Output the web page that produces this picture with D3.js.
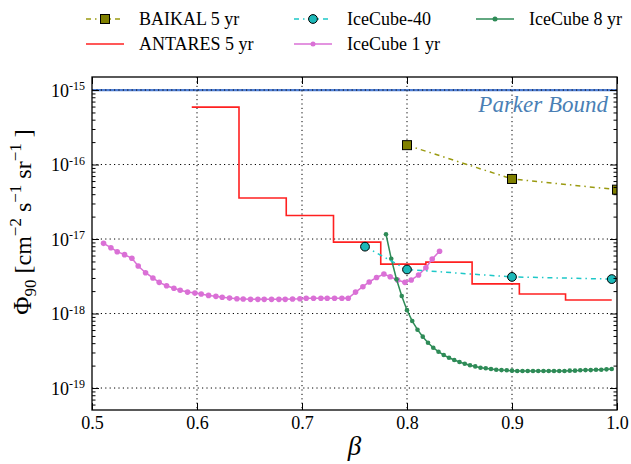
<!DOCTYPE html>
<html>
<head>
<meta charset="utf-8">
<script src="https://cdn.jsdelivr.net/npm/d3@7"></script>
</head>
<body style="margin:0; background:#fff">
<svg width="631" height="464"></svg>
<script>
// values
var baikalBeta = [0.8, 0.9, 1.0];
var baikalFlux = [1.82e-16, 6.4e-17, 4.6e-17];

var ic40Beta = [0.76, 0.8, 0.9, 0.995];
var ic40Flux = [7.9e-18, 3.9e-18, 3.1e-18, 2.9e-18];

var antaresEdges = [0.595, 0.64, 0.685, 0.73, 0.775, 0.818, 0.862, 0.907, 0.951, 0.995];
var antaresFlux = [5.9e-16, 3.55e-17, 2.07e-17, 9.1e-18, 4.6e-18, 4.9e-18, 2.5e-18, 1.83e-18, 1.52e-18];

var ic1Beta = [0.511, 0.518, 0.524, 0.531, 0.538, 0.544, 0.551, 0.558, 0.564, 0.571,
    0.578, 0.584, 0.591, 0.598, 0.604, 0.611, 0.618, 0.624, 0.631, 0.638,
    0.644, 0.651, 0.658, 0.664, 0.671, 0.678, 0.684, 0.691, 0.698, 0.704,
    0.711, 0.718, 0.724, 0.731, 0.738, 0.744, 0.751, 0.758, 0.764, 0.771,
    0.778, 0.784, 0.791, 0.798, 0.804, 0.811, 0.818, 0.824, 0.831];
var ic1Flux = [8.75e-18, 7.65e-18, 6.76e-18, 6.17e-18, 5.51e-18, 4.35e-18, 3.53e-18, 3.0e-18, 2.62e-18, 2.36e-18,
    2.18e-18, 2.05e-18, 1.94e-18, 1.88e-18, 1.83e-18, 1.75e-18, 1.70e-18, 1.65e-18, 1.61e-18, 1.58e-18,
    1.57e-18, 1.55e-18, 1.55e-18, 1.55e-18, 1.55e-18, 1.55e-18, 1.55e-18, 1.57e-18, 1.58e-18, 1.60e-18,
    1.60e-18, 1.60e-18, 1.60e-18, 1.60e-18, 1.60e-18, 1.60e-18, 1.94e-18, 2.29e-18, 2.65e-18, 3.05e-18,
    3.39e-18, 3.12e-18, 2.82e-18, 2.62e-18, 2.82e-18, 3.29e-18, 4.12e-18, 5.4e-18, 6.84e-18];

var ic8Beta = [0.780, 0.785, 0.790, 0.795, 0.800, 0.805, 0.810, 0.815, 0.820, 0.825,
    0.830, 0.835, 0.840, 0.845, 0.850, 0.855, 0.860, 0.865, 0.870, 0.875,
    0.880, 0.885, 0.890, 0.895, 0.900, 0.905, 0.910, 0.915, 0.920, 0.925,
    0.930, 0.935, 0.940, 0.945, 0.950, 0.955, 0.960, 0.965, 0.970, 0.975,
    0.980, 0.985, 0.990, 0.995];
var ic8Flux = [1.16e-17, 5.44e-18, 2.88e-18, 1.72e-18, 1.11e-18, 7.93e-19, 6.07e-19, 4.89e-19, 4.06e-19, 3.48e-19,
    3.07e-19, 2.77e-19, 2.55e-19, 2.38e-19, 2.24e-19, 2.12e-19, 2.02e-19, 1.95e-19, 1.87e-19, 1.84e-19,
    1.80e-19, 1.76e-19, 1.74e-19, 1.73e-19, 1.71e-19, 1.69e-19, 1.69e-19, 1.69e-19, 1.69e-19, 1.69e-19,
    1.69e-19, 1.69e-19, 1.69e-19, 1.69e-19, 1.69e-19, 1.71e-19, 1.71e-19, 1.73e-19, 1.74e-19, 1.74e-19,
    1.76e-19, 1.76e-19, 1.78e-19, 1.80e-19];

var parkerFlux = 1e-15;
var xTicks = [0.5, 0.6, 0.7, 0.8, 0.9, 1.0];
var xTickLabels = ["0.5", "0.6", "0.7", "0.8", "0.9", "1.0"];
var yTicks = [1e-19, 1e-18, 1e-17, 1e-16, 1e-15];
var yTickExps = ["-19", "-18", "-17", "-16", "-15"];

(function() {

    "use strict";

    var svg = d3.select("svg");
    var width = +svg.attr("width");
    var height = +svg.attr("height");
    var margin = {top: 77, right: 14, bottom: 54, left: 92};

    var x = d3.scaleLinear()
        .domain([0.5, 1.0])
        .range([margin.left, width - margin.right]);

    var y = d3.scaleLog()
        .domain([5.07e-20, 1.496e-15])
        .range([height - margin.bottom, margin.top]);

    var zip = function(xs, ys) {
        return xs.map(function(b, i) { return {b: b, f: ys[i]}; });
    };

    svg.append("clipPath").attr("id", "plot")
        .append("rect")
        .attr("x", margin.left).attr("y", margin.top)
        .attr("width", width - margin.left - margin.right)
        .attr("height", height - margin.top - margin.bottom);

    // parker bound
    svg.append("line")
        .attr("x1", x(0.5)).attr("x2", x(1.0))
        .attr("y1", y(parkerFlux)).attr("y2", y(parkerFlux))
        .attr("stroke", "#4f7fd6").attr("stroke-width", 2.2);

    // grid
    var grid = svg.append("g").attr("stroke", "#000").attr("stroke-width", 1)
        .attr("stroke-dasharray", "1.2,3.2");
    grid.selectAll(".gx").data(xTicks.slice(1, -1)).enter().append("line")
        .attr("x1", function(d) { return x(d); }).attr("x2", function(d) { return x(d); })
        .attr("y1", margin.top).attr("y2", height - margin.bottom);
    grid.selectAll(".gy").data(yTicks).enter().append("line")
        .attr("x1", margin.left).attr("x2", width - margin.right)
        .attr("y1", function(d) { return y(d); }).attr("y2", function(d) { return y(d); });

    svg.append("text")
        .attr("x", 608).attr("y", 112)
        .attr("text-anchor", "end")
        .attr("font-style", "italic")
        .attr("font-size", 23)
        .attr("fill", "#4a7fb5")
        .text("Parker Bound");

    var data = svg.append("g").attr("clip-path", "url(#plot)");
    var line = d3.line()
        .x(function(d) { return x(d.b); })
        .y(function(d) { return y(d.f); });

    // ANTARES steps
    var antSteps = [];
    antaresFlux.forEach(function(f, i) {
        antSteps.push({b: antaresEdges[i], f: f});
        antSteps.push({b: antaresEdges[i + 1], f: f});
    });
    data.append("path")
        .attr("d", line(antSteps))
        .attr("fill", "none").attr("stroke", "#ff2020").attr("stroke-width", 1.6);

    // IceCube 1 yr
    var ic1 = zip(ic1Beta, ic1Flux);
    data.append("path").attr("d", line(ic1))
        .attr("fill", "none").attr("stroke", "#da70d6").attr("stroke-width", 1.5);
    data.selectAll(".ic1").data(ic1).enter().append("circle")
        .attr("cx", function(d) { return x(d.b); })
        .attr("cy", function(d) { return y(d.f); })
        .attr("r", 2.8).attr("fill", "#da70d6");

    // IceCube 8 yr
    var ic8 = zip(ic8Beta, ic8Flux);
    data.append("path").attr("d", line(ic8))
        .attr("fill", "none").attr("stroke", "#2e8b57").attr("stroke-width", 1.5);
    data.selectAll(".ic8").data(ic8).enter().append("circle")
        .attr("cx", function(d) { return x(d.b); })
        .attr("cy", function(d) { return y(d.f); })
        .attr("r", 2.3).attr("fill", "#2e8b57");

    // IceCube-40
    var ic40 = zip(ic40Beta, ic40Flux);
    data.append("path").attr("d", line(ic40))
        .attr("fill", "none").attr("stroke", "#1ec8c8").attr("stroke-width", 1.5)
        .attr("stroke-dasharray", "5,4,1.5,4");
    data.selectAll(".ic40").data(ic40).enter().append("circle")
        .attr("cx", function(d) { return x(d.b); })
        .attr("cy", function(d) { return y(d.f); })
        .attr("r", 4.4).attr("fill", "#1cb8b8").attr("stroke", "#000").attr("stroke-width", 1);

    // BAIKAL
    var baikal = zip(baikalBeta, baikalFlux);
    data.append("path").attr("d", line(baikal))
        .attr("fill", "none").attr("stroke", "#9a9a10").attr("stroke-width", 1.5)
        .attr("stroke-dasharray", "5,4,1.5,4");
    data.selectAll(".baikal").data(baikal).enter().append("rect")
        .attr("x", function(d) { return x(d.b) - 4.5; })
        .attr("y", function(d) { return y(d.f) - 4.5; })
        .attr("width", 9).attr("height", 9)
        .attr("fill", "#808000").attr("stroke", "#000").attr("stroke-width", 1);

    // axes, ticks pointing inward on all four sides
    var minor = y.ticks().filter(function(d) {
        return yTicks.indexOf(d) < 0 && Math.abs(Math.log10(d) % 1) > 1e-6;
    });
    var fmt = function() { return ""; };

    svg.append("g").attr("transform", "translate(0," + (height - margin.bottom) + ")")
        .call(d3.axisBottom(x).tickValues(xTicks).tickSizeInner(-7).tickSizeOuter(0)
            .tickPadding(6).tickFormat(function(d, i) { return xTickLabels[i]; }));
    svg.append("g").attr("transform", "translate(0," + margin.top + ")")
        .call(d3.axisTop(x).tickValues(xTicks).tickSizeInner(-7).tickSizeOuter(0).tickFormat(fmt));

    var left = svg.append("g").attr("transform", "translate(" + margin.left + ",0)")
        .call(d3.axisLeft(y).tickValues(yTicks).tickSizeInner(-7).tickSizeOuter(0)
            .tickPadding(7).tickFormat(fmt));
    svg.append("g").attr("transform", "translate(" + margin.left + ",0)")
        .call(d3.axisLeft(y).tickValues(minor).tickSizeInner(-3.5).tickSizeOuter(0).tickFormat(fmt));
    svg.append("g").attr("transform", "translate(" + (width - margin.right) + ",0)")
        .call(d3.axisRight(y).tickValues(yTicks).tickSizeInner(-7).tickSizeOuter(0).tickFormat(fmt));
    svg.append("g").attr("transform", "translate(" + (width - margin.right) + ",0)")
        .call(d3.axisRight(y).tickValues(minor).tickSizeInner(-3.5).tickSizeOuter(0).tickFormat(fmt));

    svg.selectAll(".domain").remove();
    svg.selectAll(".tick line").attr("stroke", "#000").attr("stroke-width", 1);
    svg.selectAll(".tick text").attr("fill", "#000").attr("font-size", 18);

    left.selectAll(".tick text").each(function(d, i) {
        var t = d3.select(this).text(null).attr("dy", "0.35em");
        t.append("tspan").text("10");
        t.append("tspan").attr("dy", "-0.55em").attr("font-size", 12).text(yTickExps[i]);
    });

    svg.append("rect")
        .attr("x", margin.left).attr("y", margin.top)
        .attr("width", width - margin.left - margin.right)
        .attr("height", height - margin.top - margin.bottom)
        .attr("fill", "none").attr("stroke", "#000").attr("stroke-width", 1.3);

    // axis titles
    svg.append("text")
        .attr("x", (margin.left + width - margin.right) / 2).attr("y", 455)
        .attr("text-anchor", "middle").attr("font-style", "italic").attr("font-size", 27)
        .text("β");

    var yl = svg.append("text")
        .attr("transform", "translate(31,222) rotate(-90)")
        .attr("text-anchor", "middle").attr("font-size", 24);
    var parts = [["Φ", 0, 25], ["90", 5, 17], ["  [cm", -5, 24], ["−2", -10, 17], [" s", 10, 24],
        ["−1", -10, 17], [" sr", 10, 24], ["−1", -10, 17], [" ]", 10, 24]];
    parts.forEach(function(p) {
        yl.append("tspan").attr("dy", p[1]).attr("font-size", p[2]).text(p[0]);
    });

    // legend
    var legend = [
        {label: "BAIKAL 5 yr", x: 86, y: 19, color: "#9a9a10", dash: "5,4,1.5,4", marker: "square"},
        {label: "IceCube-40", x: 294, y: 19, color: "#1ec8c8", dash: "5,4,1.5,4", marker: "big"},
        {label: "IceCube 8 yr", x: 476, y: 19, color: "#2e8b57", dash: null, marker: "dot"},
        {label: "ANTARES 5 yr", x: 86, y: 44, color: "#ff2020", dash: null, marker: null},
        {label: "IceCube 1 yr", x: 294, y: 44, color: "#da70d6", dash: null, marker: "dot"}
    ];
    var lg = svg.selectAll(".legend").data(legend).enter().append("g")
        .attr("transform", function(d) { return "translate(" + d.x + "," + d.y + ")"; });
    lg.append("line").attr("x1", 0).attr("x2", 38)
        .attr("stroke", function(d) { return d.color; }).attr("stroke-width", 1.5)
        .attr("stroke-dasharray", function(d) { return d.dash; });
    lg.filter(function(d) { return d.marker === "dot"; }).append("circle")
        .attr("cx", 19).attr("r", 2.5).attr("fill", function(d) { return d.color; });
    lg.filter(function(d) { return d.marker === "big"; }).append("circle")
        .attr("cx", 19).attr("r", 4.4).attr("fill", "#1cb8b8").attr("stroke", "#000");
    lg.filter(function(d) { return d.marker === "square"; }).append("rect")
        .attr("x", 14.5).attr("y", -4.5).attr("width", 9).attr("height", 9)
        .attr("fill", "#808000").attr("stroke", "#000");
    lg.append("text").attr("x", 53).attr("dy", "0.35em").attr("font-size", 18)
        .text(function(d) { return d.label; });

    // serif everywhere, set on each text so nothing overrides it
    svg.selectAll("text, tspan").attr("font-family", "Liberation Serif")
        .style("font-family", "'Liberation Serif'");

}());
</script>
</body>
</html>
